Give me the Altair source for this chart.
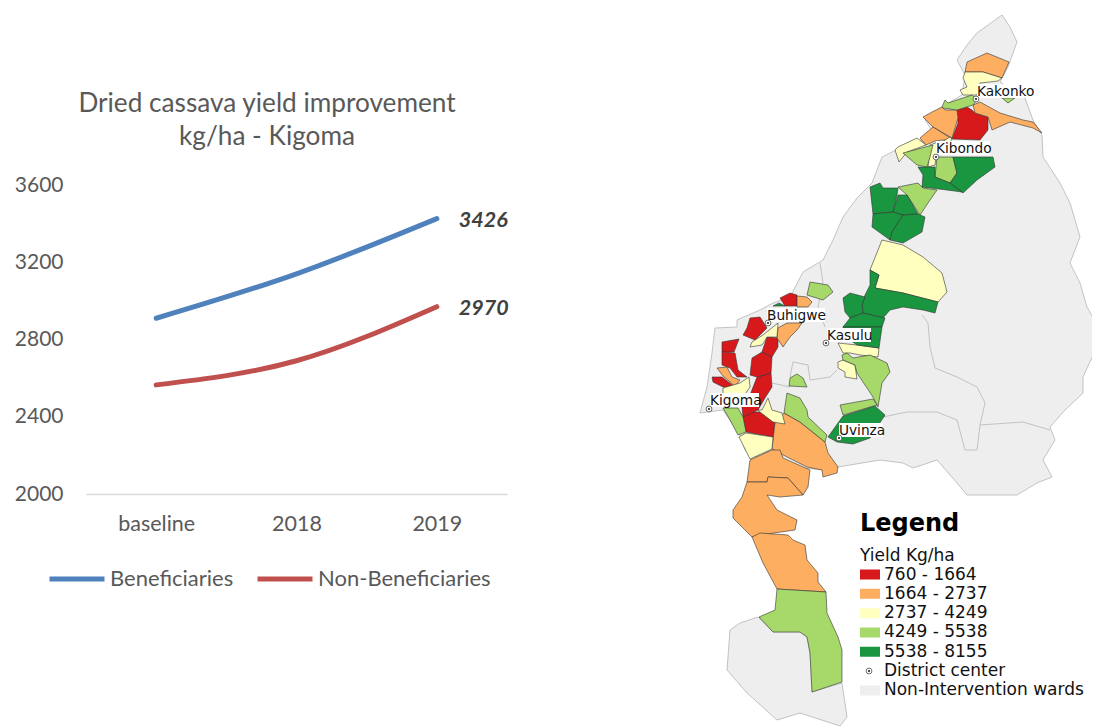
import altair as alt

# ---------- line chart values ----------
PERIODS = ["baseline", "2018", "2019"]
BENEFICIARIES = [2910, 3140, 3426]
NON_BENEFICIARIES = [2565, 2690, 2970]
Y_TICKS = [2000, 2400, 2800, 3200, 3600]
LINE_SERIES = ["Beneficiaries", "Non-Beneficiaries"]
LINE_COLORS = ["#4f81bd", "#c0504d"]

# ---------- map classes ----------
CLASSES = ["760 - 1664", "1664 - 2737", "2737 - 4249", "4249 - 5538", "5538 - 8155",
           "District center", "Non-Intervention wards"]
CLASS_COLORS = ["#d7191c", "#fdae61", "#ffffbf", "#a6d96a", "#1a9641", "transparent", "#eeeeee"]

# ---------- map geometry, in the map's own units ----------
BODY = [[(1002,15),(1010,27),(1017,42),(1008,67),(1000,82),(1025,98),(1033,120),(1042,135),(1043,157),
         (1060,183),(1070,203),(1080,237),(1070,263),(1080,283),(1087,307),(1100,330),(1100,340),(1083,377),
         (1083,393),(1065,410),(1050,427),(1055,440),(1043,460),(1052,477),(1037,483),(1017,495),(967,495),
         (957,483),(937,460),(913,468),(903,463),(880,460),(838,467),(825,470),(770,465),(745,450),(740,435),
         (723,410),(700,413),(707,387),(712,353),(715,328),(737,327),(737,320),(760,310),(773,303),(790,297),
         (803,272),(823,260),(833,240),(843,217),(857,198),(872,183),(882,157),(900,148),(935,135),(925,120),
         (945,105),(962,95),(965,75),(957,60),(967,45),(977,33)],
        [(758,617),(740,623),(730,630),(727,670),(747,693),(777,720),(800,713),(840,726),(847,717),(842,683),
         (812,692),(810,653),(807,637),(800,632),(773,632)]]
INNER_LINES = [[(820,263),(823,283),(818,307),(825,327)],
               [(922,315),(928,323),(930,347),(935,368),(957,377),(977,387),(985,403),(980,425),(977,450),(965,450),
                (957,420),(937,412),(907,412),(883,417)],
               [(980,425),(1023,422),(1050,430)],
               [(790,377),(793,362),(808,365),(810,380),(830,377),(837,370)],
               [(772,383),(790,387)]]
RED = [[(957,110),(967,107),(972,110),(975,113),(988,117),(988,130),(980,140),(952,139),(958,123)],
       [(743,417),(753,412),(760,412),(775,423),(773,437),(746,432)],
       [(757,377),(771,373),(772,387),(765,398),(758,410),(743,417),(742,407),(750,395)],
       [(752,358),(762,352),(772,357),(771,373),(757,377),(750,375)],
       [(767,337),(778,338),(778,347),(772,357),(762,352)],
       [(750,318),(760,317),(767,328),(755,340),(743,335),(747,328)],
       [(780,298),(790,293),(797,295),(797,306),(785,306)],
       [(722,342),(739,339),(734,352),(722,352)],
       [(722,352),(735,353),(738,370),(747,377),(737,377),(730,368),(722,365)],
       [(712,377),(722,377),(735,387),(723,387),(713,382)]]
ORANGE = [[(965,72),(967,62),(987,53),(1009,62),(1002,78),(983,72)],
          [(923,117),(932,112),(942,107),(945,110),(957,110),(958,118),(952,138),(933,127)],
          [(933,127),(920,138),(926,145),(935,141),(952,139)],
          [(973,105),(980,102),(1000,113),(1023,120),(1033,122),(1042,133),(1033,128),(1010,122),(992,130),(988,117),(975,113)],
          [(784,413),(800,422),(825,442),(828,453),(838,467),(837,473),(823,477),(822,470),(807,467),(787,457),(772,449),(775,423)],
          [(778,328),(787,323),(802,323),(797,330),(790,337),(783,347),(777,338)],
          [(797,296),(807,297),(812,302),(808,307),(797,307)],
          [(717,368),(727,367),(732,377),(740,380),(735,386),(723,376)],
          [(750,460),(772,450),(780,450),(783,458),(810,470),(808,487),(803,495),(788,478),(768,477),(767,482),(747,482)],
          [(747,482),(767,482),(768,477),(788,478),(803,495),(780,497),(767,495),(777,510),(797,520),(795,530),(760,535),(752,537),(733,518),(733,510),(742,497)],
          [(752,537),(760,533),(788,535),(793,540),(805,545),(807,560),(818,573),(818,582),(826,592),(777,589),(763,563)]]
YELLOW = [[(965,72),(983,72),(1002,78),(998,81),(980,83),(977,95),(963,95),(960,90),(967,87),(963,78)],
          [(895,150),(898,147),(917,138),(926,145),(907,152),(899,162)],
          [(930,145),(938,142),(935,165),(928,167)],
          [(942,142),(950,137),(952,139),(948,145)],
          [(882,240),(903,245),(923,257),(942,273),(947,292),(938,302),(903,293),(875,288),(879,275),(870,270)],
          [(838,343),(857,345),(879,348),(878,357),(860,355),(850,353),(843,353)],
          [(838,362),(843,360),(855,365),(857,379),(845,377),(845,372),(838,368)],
          [(758,410),(762,410),(768,398),(772,410),(782,413),(785,424),(773,422),(760,412)],
          [(739,437),(746,433),(773,437),(772,449),(750,459)],
          [(750,347),(752,342),(763,335),(778,323),(777,337),(767,337),(762,345)],
          [(723,388),(740,383),(749,377),(750,387),(743,397),(723,398)]]
LIGHT_GREEN = [[(942,107),(945,100),(948,103),(972,95),(977,100),(973,105),(957,110),(943,108)],
               [(1002,98),(1015,98),(1008,103)],
               [(903,153),(933,145),(930,157),(927,167),(917,165)],
               [(937,157),(953,157),(957,173),(950,183),(935,177)],
               [(898,187),(918,183),(923,188),(937,190),(930,200),(920,215),(907,195)],
               [(847,353),(853,358),(870,355),(887,363),(890,372),(882,383),(878,407),(873,397),(857,373),(855,365),(843,360),(842,355)],
               [(840,405),(873,399),(877,405),(843,415)],
               [(790,378),(797,374),(803,378),(807,387),(789,386)],
               [(810,282),(828,285),(833,292),(823,300),(807,295)],
               [(787,393),(800,398),(807,410),(808,417),(827,435),(825,442),(800,422),(784,413)],
               [(723,408),(738,408),(743,417),(746,432),(738,435),(730,420)],
               [(777,589),(826,592),(827,613),(838,637),(842,650),(842,682),(812,692),(810,653),(807,637),(800,632),(773,632),(759,617),(775,610)]]
DARK_GREEN = [[(953,157),(993,157),(995,167),(977,180),(963,193),(950,183),(957,173)],
              [(918,167),(927,167),(935,167),(935,177),(950,183),(962,192),(947,190),(922,187),(923,175)],
              [(870,187),(880,183),(883,188),(898,188),(897,195),(893,212),(873,214)],
              [(893,212),(898,195),(907,195),(918,214),(903,215)],
              [(873,214),(893,212),(903,215),(892,233),(890,240),(872,227)],
              [(903,215),(918,214),(925,217),(922,232),(903,243),(890,240),(892,232)],
              [(870,270),(879,275),(875,288),(903,293),(938,302),(935,313),(923,310),(903,307),(890,310),(883,318),(863,313),(862,305),(865,295),(870,285)],
              [(843,298),(850,293),(865,297),(862,305),(863,313),(850,318),(845,312)],
              [(850,318),(863,313),(885,318),(882,327),(843,327)],
              [(843,327),(882,327),(879,348),(857,345),(843,335)],
              [(843,416),(875,406),(885,415),(870,438),(853,444),(837,442),(828,437)],
              [(773,306),(779,303),(785,306)]]

# ---------- map labels ----------
TOWNS = ["Kakonko", "Kibondo", "Buhigwe", "Kasulu", "Kigoma", "Uvinza"]
TOWN_LON = [976, 936, 768, 826, 709, 839]
TOWN_LAT = [99, 157, 323, 343, 409, 438]
LABEL_LON = [977, 936, 767, 827, 710, 839]
LABEL_LAT = [91, 148, 315, 335, 400, 430]
LABEL_W = [57, 54, 58, 44, 49, 44]
LEGEND_DOT = (869, 671)


def polygons(ring_list, cls):
    return [{"type": "Feature", "properties": {"cls": cls},
             "geometry": {"type": "Polygon", "coordinates": [[list(p) for p in r] + [list(r[0])]]}}
            for r in ring_list]


def lines(line_list):
    return [{"type": "Feature", "properties": {},
             "geometry": {"type": "LineString", "coordinates": [list(p) for p in r]}} for r in line_list]


proj = dict(type="identity", scale=1, translate=[-8, -8])
fill_scale = alt.Scale(domain=CLASSES, range=CLASS_COLORS)
fill_legend = alt.Legend(
    title="Yield Kg/ha", orient="none", legendX=852, legendY=540,
    titleFont="DejaVu Sans", titleFontSize=17, titleFontWeight="normal", titleColor="#111111", titlePadding=0,
    labelFont="DejaVu Sans", labelFontSize=17, labelColor="#111111", labelOffset=4,
    symbolType="M-1,-0.5H1V0.5H-1Z", symbolSize=400, symbolStrokeColor="transparent", symbolStrokeWidth=0,
    symbolOpacity=1, rowPadding=0.33, clipHeight=19, labelLimit=260, values=CLASSES,
)

body = alt.Chart(alt.Data(values=polygons(BODY, CLASSES[-1]))).mark_geoshape(
    stroke="#b5b5b5", strokeWidth=0.8).encode(
    fill=alt.Fill("properties.cls:N", scale=fill_scale, legend=fill_legend)).project(**proj)
inner = alt.Chart(alt.Data(values=lines(INNER_LINES))).mark_geoshape(
    filled=False, stroke="#c2c2c2", strokeWidth=1).project(**proj)
wards_data = (polygons(RED, CLASSES[0]) + polygons(ORANGE, CLASSES[1]) + polygons(YELLOW, CLASSES[2])
              + polygons(LIGHT_GREEN, CLASSES[3]) + polygons(DARK_GREEN, CLASSES[4]))
wards = alt.Chart(alt.Data(values=wards_data)).mark_geoshape(
    stroke="#333333", strokeWidth=0.6).encode(
    fill=alt.Fill("properties.cls:N", scale=fill_scale, legend=fill_legend)).project(**proj)

label_rows = [{"t": t, "lon": a, "lat": b, "px": c, "py": d, "w": w}
              for t, a, b, c, d, w in zip(TOWNS, LABEL_LON, LABEL_LAT, TOWN_LON, TOWN_LAT, LABEL_W)]
boxes = alt.Chart(alt.Data(values=polygons(
    [[(r["lon"], r["lat"] - 7), (r["lon"] + r["w"], r["lat"] - 7), (r["lon"] + r["w"], r["lat"] + 7), (r["lon"], r["lat"] + 7)]
     for r in label_rows], "label"))).mark_geoshape(fill="white", stroke=None).project(**proj)
centre_rows = [{"lon": r["px"], "lat": r["py"]} for r in label_rows] + [{"lon": LEGEND_DOT[0], "lat": LEGEND_DOT[1]}]
centre_ring = alt.Chart(alt.Data(values=centre_rows)).mark_point(
    filled=True, fill="white", stroke="#333333", strokeWidth=0.7, size=34, opacity=1).encode(
    longitude="lon:Q", latitude="lat:Q").project(**proj)
centre_dot = alt.Chart(alt.Data(values=centre_rows)).mark_point(
    filled=True, fill="#222222", size=5, opacity=1).encode(
    longitude="lon:Q", latitude="lat:Q").project(**proj)
town_text = alt.Chart(alt.Data(values=label_rows)).mark_text(
    align="left", baseline="middle", font="DejaVu Sans", fontSize=13.7, color="#111111", dx=0, dy=1).encode(
    longitude="lon:Q", latitude="lat:Q", text="t:N").project(**proj)
legend_head = alt.Chart(alt.Data(values=[{"t": "Legend", "lon": 860, "lat": 523.5}])).mark_text(
    align="left", baseline="middle", font="DejaVu Sans", fontSize=24, fontWeight="bold", color="#000000").encode(
    longitude="lon:Q", latitude="lat:Q", text="t:N").project(**proj)

# ---------- line chart ----------
rows = [{"p": p, "v": v, "s": LINE_SERIES[0]} for p, v in zip(PERIODS, BENEFICIARIES)] + \
       [{"p": p, "v": v, "s": LINE_SERIES[1]} for p, v in zip(PERIODS, NON_BENEFICIARIES)]
x_enc = alt.X("p:N", scale=alt.Scale(type="point", domain=PERIODS, padding=0.5, range=[78, 499]),
              axis=alt.Axis(title=None, offset=-232, labelAngle=0, ticks=False, domainColor="#d9d9d9", domainWidth=1.5,
                            labelFont="Lato", labelFontSize=21.5, labelColor="#595959", labelPadding=19, grid=False))
y_enc = alt.Y("v:Q", scale=alt.Scale(domain=[2000, 3600], range=[486, 177], nice=False, zero=False),
              axis=alt.Axis(title=None, offset=-55, values=Y_TICKS, format="d", ticks=False, domain=False, grid=False,
                            labelFont="Lato", labelFontSize=21, labelColor="#595959", labelPadding=0))
line_legend = alt.Legend(
    title=None, orient="none", legendX=39, legendY=541, direction="horizontal",
    symbolType="stroke", symbolSize=3025, symbolStrokeWidth=5, symbolOpacity=1,
    labelFont="Lato", labelFontSize=22, labelColor="#595959", labelOffset=3, columnPadding=13, labelLimit=260,
)
line_layer = alt.Chart(alt.Data(values=rows)).mark_line(
    interpolate="monotone", strokeWidth=5, strokeCap="round", strokeJoin="round").encode(
    x=x_enc, y=y_enc,
    stroke=alt.Stroke("s:N", scale=alt.Scale(domain=LINE_SERIES, range=LINE_COLORS), legend=line_legend))
value_layer = alt.Chart(alt.Data(values=[r for r in rows if r["p"] == PERIODS[-1]])).mark_text(
    align="left", baseline="middle", dx=22, dy=2, font="Lato", fontSize=21.5, fontWeight="bold", fontStyle="italic",
    color="#404040").encode(x=x_enc, y=y_enc, text=alt.Text("v:Q", format="d"))

chart = alt.layer(body, inner, wards, boxes, centre_ring, centre_dot, town_text, legend_head, line_layer, value_layer).properties(
    width=1084, height=718, padding=0,
    autosize=alt.AutoSizeParams(type="none"),
    title=alt.TitleParams(
        text=["Dried cassava yield improvement", "kg/ha - Kigoma"], anchor="middle", dx=-283, dy=146,
        font="Lato", fontSize=26.2, fontWeight="normal", color="#595959", lineHeight=33),
).configure_view(stroke=None)

chart.save("out.html", embed_options={"renderer": "svg", "actions": False})
